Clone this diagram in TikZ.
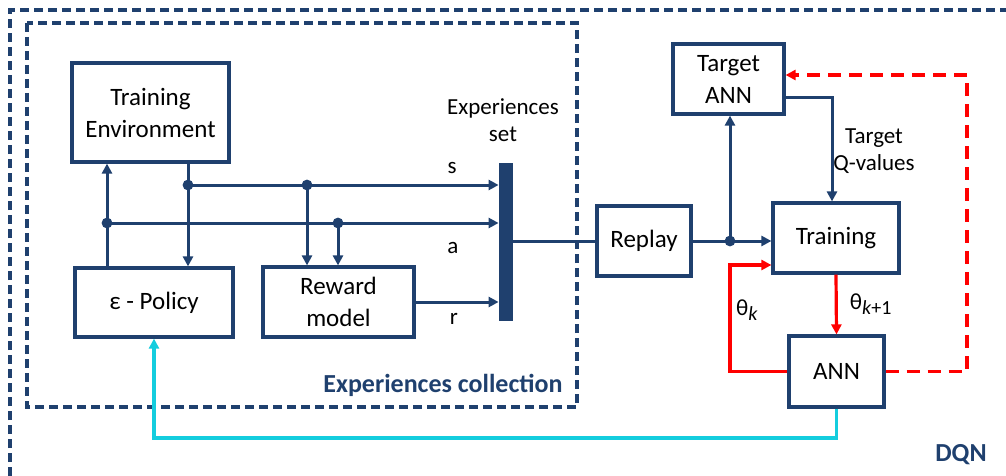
\documentclass[tikz,border=0pt]{standalone}
\usepackage{fontspec}
\setmainfont{Carlito}
\usetikzlibrary{arrows.meta}
\definecolor{dqnblue}{RGB}{31,64,110}
\definecolor{dqncyan}{RGB}{20,205,222}
\newcommand{\thsub}[1]{θ\raisebox{-2.5pt}{\fontsize{10}{10}\selectfont #1}}

\begin{document}
\begin{tikzpicture}[x=0.5pt,y=-0.5pt,
    box/.style={draw=dqnblue,line width=1.6pt,inner sep=0pt,align=center,font=\fontsize{12.5}{16}\selectfont},
    lbl/.style={inner sep=0pt,align=center,font=\fontsize{11.5}{13.5}\selectfont},
    title/.style={inner sep=0pt,text=dqnblue,font=\fontsize{13}{15}\selectfont\bfseries},
    conn/.style={draw=dqnblue,line width=1.5pt},
    arr/.style={-{Triangle[length=5pt,width=5pt]}},
    frame/.style={draw=dqnblue,line width=1.6pt,dash pattern=on 4.5pt off 2.5pt}]
  \useasboundingbox (0,0) rectangle (1006,476);
  % dashed frames
  \draw[frame] (10,476) -- (10,10) -- (1006,10);
  \draw[frame] (27,23) rectangle (577,407);
  \node[title] (lblcol) at (443,385) {Experiences collection};
  \node[title] (lbldqn) at (961,455) {DQN};
  % blocks
  \node[box,minimum width=78.5pt,minimum height=49.5pt] (env) at (150.5,112.5) {Training\\Environment};
  \node[box,minimum width=79pt,minimum height=34.5pt] (policy) at (154,302.5) {ε - Policy};
  \node[box,minimum width=75.5pt,minimum height=35pt] (reward) at (338.5,302) {Reward\\model};
  \node[fill=dqnblue,inner sep=0pt,minimum width=7pt,minimum height=79pt] (bar) at (506,242) {};
  \node[lbl] (lblset) at (503,120) {Experiences\\set};
  \node[box,minimum width=47pt,minimum height=35pt] (replay) at (644,241) {Replay};
  \node[box,minimum width=63pt,minimum height=35pt] (training) at (836,238) {Training};
  \node[box,minimum width=55.5pt,minimum height=35pt] (target) at (728.5,79) {Target\\ANN};
  \node[box,minimum width=47.5pt,minimum height=35.5pt] (ann) at (836.5,371.5) {ANN};
  % junctions
  \coordinate (js1) at (188,185);
  \coordinate (js2) at (307,185);
  \coordinate (ja1) at (107,223);
  \coordinate (ja2) at (338,223);
  \coordinate (jr) at (730,241);
  \coordinate (tq) at (832,98);
  \coordinate (tk) at (730,265);
  \coordinate (td) at (967,75);
  \coordinate (cy) at (154,438);
  % experiences collection
  \draw[conn,arr] (env.south -| js1) -- (policy.north -| js1);
  \draw[conn,arr] (policy.north -| ja1) -- (env.south -| ja1);
  \draw[conn,arr] (js1) -- (bar.west |- js1) node[lbl,pos=0.85,above=5pt] (lbls) {s};
  \draw[conn,arr] (ja1) -- (bar.west |- ja1) node[lbl,pos=0.883,below=9pt] (lbla) {a};
  \draw[conn,arr] (reward.east) -- (bar.west |- reward.east) node[lbl,pos=0.46,below=5pt] (lblr) {r};
  \draw[conn,arr] (js2) -- (reward.north -| js2);
  \draw[conn,arr] (ja2) -- (reward.north -| ja2);
  \foreach \j in {js1,js2,ja1,ja2,jr} \fill[dqnblue] (\j) circle (2.7pt);
  % replay and training
  \draw[conn] (bar.east |- replay.west) -- (replay.west);
  \draw[conn,arr] (replay.east) -- (training.west |- replay.east);
  \draw[conn,arr] (jr) -- (target.south -| jr);
  \draw[conn,arr] (target.east |- tq) -- (tq) -- (training.north -| tq);
  \node[lbl] (lblq) at (874,151) {Target\\Q-values};
  % parameters
  \draw[red,line width=1.6pt,arr] (training.south) -- (ann.north) node[lbl,midway,right=6pt,text=black] (lblk1) {\thsub{\textit{k}+1}};
  \draw[red,line width=1.6pt,arr] (ann.west) -| (tk) -- (training.west |- tk);
  \node[lbl] (lblk) at (747,310) {\thsub{\textit{k}}};
  \draw[red,line width=1.6pt,dash pattern=on 6.5pt off 4pt,arr] (ann.east) -| (td) -- (target.east |- td);
  % policy update
  \draw[dqncyan,line width=1.6pt,arr] (ann.south) |- (cy) -- (policy.south);
\end{tikzpicture}
\end{document}
